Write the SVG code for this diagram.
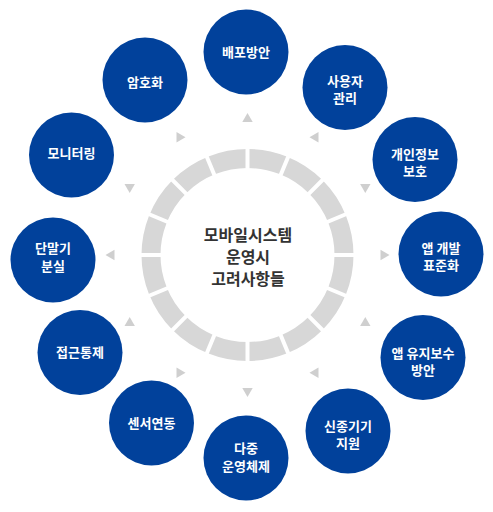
<svg xmlns="http://www.w3.org/2000/svg" xmlns:xlink="http://www.w3.org/1999/xlink" width="493" height="512" viewBox="0 0 493 512">
<style>
.node circle{fill:#01419b;}
.node text{fill:#fff;font-family:"Noto Sans CJK KR","Noto Sans",sans-serif;font-size:13px;font-weight:bold;text-anchor:middle;}
.center text{fill:#333;font-family:"Noto Sans CJK KR","Noto Sans",sans-serif;font-size:16px;font-weight:bold;text-anchor:middle;}
.tri{fill:#cfcfcf;}
</style>
<defs>
<polygon id="tri" points="0,-6 5.2,3 -5.2,3"/>
<line id="gap" x1="247.5" y1="144" x2="247.5" y2="172" stroke="#fff" stroke-width="4"/>
</defs>
<rect width="493" height="512" fill="#fff"/>
<g id="ring">
<circle cx="247.5" cy="255" r="96.5" fill="none" stroke="#d7d7d7" stroke-width="19"/>
<use xlink:href="#gap"/>
<use xlink:href="#gap" transform="rotate(22.5 247.5 255)"/>
<use xlink:href="#gap" transform="rotate(45 247.5 255)"/>
<use xlink:href="#gap" transform="rotate(67.5 247.5 255)"/>
<use xlink:href="#gap" transform="rotate(90 247.5 255)"/>
<use xlink:href="#gap" transform="rotate(112.5 247.5 255)"/>
<use xlink:href="#gap" transform="rotate(135 247.5 255)"/>
<use xlink:href="#gap" transform="rotate(157.5 247.5 255)"/>
<use xlink:href="#gap" transform="rotate(180 247.5 255)"/>
<use xlink:href="#gap" transform="rotate(202.5 247.5 255)"/>
<use xlink:href="#gap" transform="rotate(225 247.5 255)"/>
<use xlink:href="#gap" transform="rotate(247.5 247.5 255)"/>
<use xlink:href="#gap" transform="rotate(270 247.5 255)"/>
<use xlink:href="#gap" transform="rotate(292.5 247.5 255)"/>
<use xlink:href="#gap" transform="rotate(315 247.5 255)"/>
<use xlink:href="#gap" transform="rotate(337.5 247.5 255)"/>
</g>
<g id="center" class="center">
<text x="248" y="240.5">모바일시스템<tspan x="248" dy="22">운영시</tspan><tspan x="248" dy="22">고려사항들</tspan></text>
</g>
<g id="connectors" class="tri">
<use xlink:href="#tri" transform="translate(247.5 119) rotate(0)"/>
<use xlink:href="#tri" transform="translate(315.5 137.2) rotate(30)"/>
<use xlink:href="#tri" transform="translate(365.3 187) rotate(60)"/>
<use xlink:href="#tri" transform="translate(383.5 255) rotate(90)"/>
<use xlink:href="#tri" transform="translate(365.3 323) rotate(120)"/>
<use xlink:href="#tri" transform="translate(315.5 372.8) rotate(150)"/>
<use xlink:href="#tri" transform="translate(247.5 391) rotate(180)"/>
<use xlink:href="#tri" transform="translate(179.5 372.8) rotate(210)"/>
<use xlink:href="#tri" transform="translate(129.7 323) rotate(240)"/>
<use xlink:href="#tri" transform="translate(111.5 255) rotate(270)"/>
<use xlink:href="#tri" transform="translate(129.7 187) rotate(300)"/>
<use xlink:href="#tri" transform="translate(179.5 137.2) rotate(330)"/>
</g>
<g id="n1" class="node"><circle cx="246" cy="52" r="42.5"/><text x="246" y="56.7">배포방안</text></g>
<g id="n2" class="node"><circle cx="345" cy="87.5" r="42.5"/><text x="345" y="85.5">사용자<tspan x="345" dy="17.6">관리</tspan></text></g>
<g id="n3" class="node"><circle cx="415" cy="159.5" r="42.5"/><text x="415" y="158.7">개인정보<tspan x="415" dy="17.6">보호</tspan></text></g>
<g id="n4" class="node"><circle cx="441" cy="254" r="42.5"/><text x="441" y="252.5">앱 개발<tspan x="441" dy="17.6">표준화</tspan></text></g>
<g id="n5" class="node"><circle cx="423" cy="357.5" r="42.5"/><text x="423" y="357.7">앱 유지보수<tspan x="423" dy="17.6">방안</tspan></text></g>
<g id="n6" class="node"><circle cx="348" cy="431" r="42.5"/><text x="348" y="430.8">신종기기<tspan x="348" dy="17.6">지원</tspan></text></g>
<g id="n7" class="node"><circle cx="246" cy="458" r="42.5"/><text x="246" y="453.3">다중<tspan x="246" dy="18">운영체제</tspan></text></g>
<g id="n8" class="node"><circle cx="151.5" cy="423" r="42.5"/><text x="151.5" y="427.5">센서연동</text></g>
<g id="n9" class="node"><circle cx="80" cy="352.5" r="42.5"/><text x="80" y="357.2">접근통제</text></g>
<g id="n10" class="node"><circle cx="53" cy="260" r="42.5"/><text x="53" y="253.3">단말기<tspan x="53" dy="17.6">분실</tspan></text></g>
<g id="n11" class="node"><circle cx="71.5" cy="155" r="42.5"/><text x="71.5" y="158.3">모니터링</text></g>
<g id="n12" class="node"><circle cx="145" cy="80" r="42.5"/><text x="145" y="86.7">암호화</text></g>
</svg>
